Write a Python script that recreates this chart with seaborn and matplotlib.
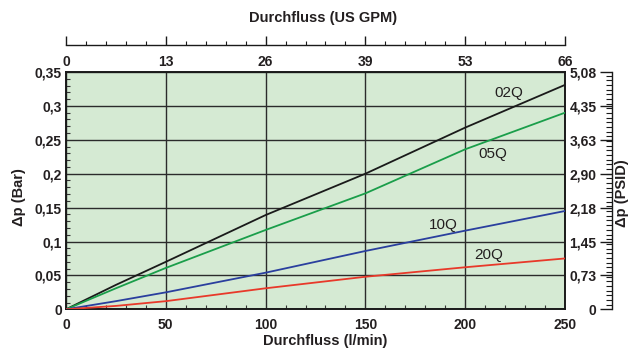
import matplotlib
matplotlib.use("Agg")
import matplotlib.pyplot as plt
import seaborn as sns
import pandas as pd
from matplotlib.ticker import FixedLocator, MultipleLocator

# ---------------- data ----------------
flow_lpm = [0, 25, 50, 100, 150, 200, 250]
dp_02Q = [0, 0.036, 0.070, 0.139, 0.200, 0.268, 0.331]
dp_05Q = [0, 0.031, 0.061, 0.117, 0.171, 0.236, 0.290]
dp_10Q = [0, 0.012, 0.025, 0.054, 0.086, 0.116, 0.145]
dp_20Q = [0, 0.005, 0.012, 0.031, 0.048, 0.062, 0.075]
series_names = ["02Q", "05Q", "10Q", "20Q"]
series_colors = ["#1a1a1a", "#1a9e4a", "#2a3f9e", "#e8392a"]

x_ticks_lpm = [0, 50, 100, 150, 200, 250]
x_labels_lpm = ["0", "50", "100", "150", "200", "250"]
gpm_labels = ["0", "13", "26", "39", "53", "66"]
bar_ticks = [0, 0.05, 0.10, 0.15, 0.20, 0.25, 0.30, 0.35]
bar_labels = ["0", "0,05", "0,1", "0,15", "0,2", "0,25", "0,3", "0,35"]
psid_labels = ["0", "0,73", "1,45", "2,18", "2,90", "3,63", "4,35", "5,08"]
BAR_TO_PSI = 14.5038

df = pd.DataFrame({
    "flow": flow_lpm * 4,
    "dp": dp_02Q + dp_05Q + dp_10Q + dp_20Q,
    "element": sum([[n] * len(flow_lpm) for n in series_names], []),
})

# ---------------- style ----------------
sns.set_style("white")
plt.rcParams["font.family"] = ["Liberation Sans", "DejaVu Sans"]
TXT = "#231f20"

W, H = 631, 349
fig = plt.figure(figsize=(W / 100, H / 100), dpi=100)

L, R, T, B = 66, 565, 72, 309.3
ax = fig.add_axes([L / W, 1 - B / H, (R - L) / W, (B - T) / H])
ax.set_facecolor("#d5ead3")

sns.lineplot(data=df, x="flow", y="dp", hue="element",
             palette=dict(zip(series_names, series_colors)),
             ax=ax, legend=False, linewidth=1.3, zorder=3)

ax.set_xlim(0, 250)
ax.set_ylim(0, 0.35)
ax.set_xlabel("")
ax.set_ylabel("")
ax.xaxis.set_major_locator(FixedLocator(x_ticks_lpm))
ax.set_xticklabels(x_labels_lpm)
ax.yaxis.set_major_locator(FixedLocator(bar_ticks))
ax.set_yticklabels(bar_labels)
ax.xaxis.set_minor_locator(MultipleLocator(10))
ax.yaxis.set_minor_locator(MultipleLocator(0.01))
ax.grid(True, which="major", color="#2b2b2b", linewidth=1.0)
ax.set_axisbelow(True)
ax.tick_params(axis="both", which="both", bottom=True, left=True)
ax.tick_params(axis="both", which="major", length=0, labelsize=10,
               labelcolor=TXT)
ax.tick_params(axis="x", which="major", pad=6)
ax.tick_params(axis="y", which="major", pad=3)
ax.tick_params(axis="both", which="minor", direction="in", length=3,
               width=0.8, color="#333333")
for lab in ax.get_xticklabels() + ax.get_yticklabels():
    lab.set_fontweight("bold")
for s in ax.spines.values():
    s.set_visible(True)
    s.set_color("#1a1a1a")
    s.set_linewidth(1.4)

# curve labels
label_pos = {"02Q": (222, 0.319), "05Q": (214, 0.229),
             "10Q": (189, 0.125), "20Q": (212, 0.080)}
for n in series_names:
    x, y = label_pos[n]
    ax.text(x, y, n, ha="center", va="center", fontsize=11, color=TXT,
            zorder=4)

# ---------------- top axis (US GPM) ----------------
top_y = 45
axt = fig.add_axes([L / W, 1 - top_y / H, (R - L) / W, 0.0001])
axt.patch.set_visible(False)
for k in ["top", "left", "right"]:
    axt.spines[k].set_visible(False)
axt.spines["bottom"].set_color("#1a1a1a")
axt.spines["bottom"].set_linewidth(1.0)
axt.set_xlim(0, 250)
axt.set_yticks([])
axt.xaxis.set_major_locator(FixedLocator(x_ticks_lpm))
axt.set_xticklabels(gpm_labels)
axt.xaxis.set_minor_locator(MultipleLocator(10))
axt.tick_params(axis="x", which="both", bottom=True, top=False)
axt.tick_params(axis="x", which="major", direction="in", length=6.5,
                width=1.0, pad=7, labelsize=10, labelcolor=TXT,
                color="#1a1a1a")
axt.tick_params(axis="x", which="minor", direction="in", length=3,
                width=0.8, color="#1a1a1a")
for lab in axt.get_xticklabels():
    lab.set_fontweight("bold")

# ---------------- right axis (PSID) ----------------
axr = fig.add_axes([612 / W, 1 - B / H, 0.0001, (B - T) / H])
axr.patch.set_visible(False)
for k in ["top", "bottom", "right"]:
    axr.spines[k].set_visible(False)
axr.spines["left"].set_color("#1a1a1a")
axr.spines["left"].set_linewidth(1.0)
axr.set_xticks([])
axr.set_ylim(0, 0.35 * BAR_TO_PSI)
axr.yaxis.set_major_locator(FixedLocator([b * BAR_TO_PSI for b in bar_ticks]))
axr.set_yticklabels(psid_labels)
axr.yaxis.set_minor_locator(MultipleLocator(0.1))
axr.tick_params(axis="y", which="both", left=True, right=False)
axr.tick_params(axis="y", which="major", direction="out", length=9,
                width=1.0, pad=2, labelsize=10, labelcolor=TXT,
                color="#1a1a1a")
axr.tick_params(axis="y", which="minor", direction="out", length=4,
                width=0.8, color="#1a1a1a")
for lab in axr.get_yticklabels():
    lab.set_fontweight("bold")

# ---------------- axis titles ----------------
fig.text(323 / W, 1 - 18 / H, "Durchfluss (US GPM)", ha="center", va="center",
         fontsize=10.5, fontweight="bold", color=TXT)
fig.text(325 / W, 1 - 341 / H, "Durchfluss (l/min)", ha="center", va="center",
         fontsize=10.5, fontweight="bold", color=TXT)
fig.text(19 / W, 1 - 197 / H, "Δp (Bar)", ha="center", va="center",
         rotation=90, fontsize=10.5, fontweight="bold", color=TXT)
fig.text(622 / W, 1 - 193 / H, "Δp (PSID)", ha="center", va="center",
         rotation=90, fontsize=10.5, fontweight="bold", color=TXT)

fig.savefig("out.png", dpi=100, facecolor="white")
